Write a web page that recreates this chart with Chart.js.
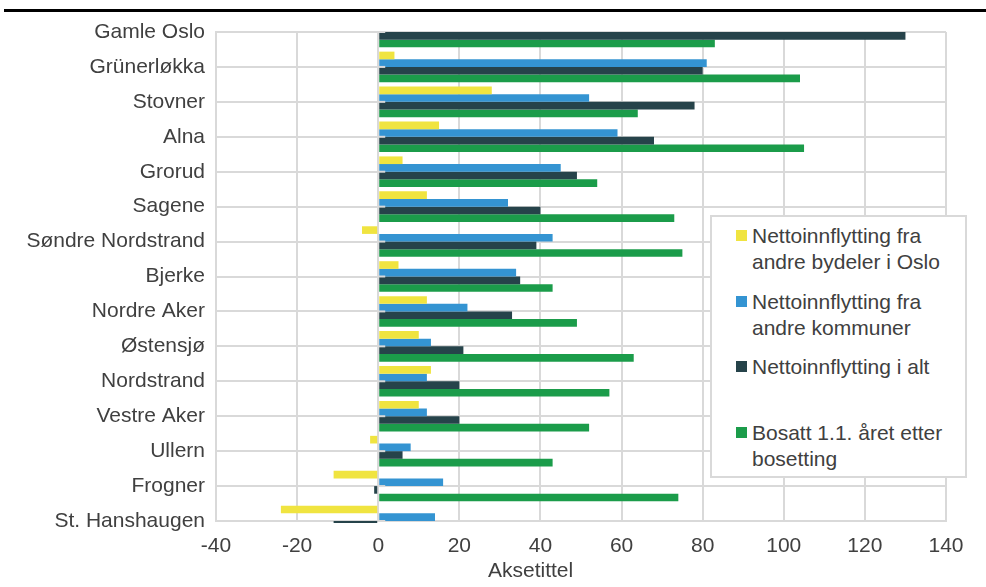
<!DOCTYPE html>
<html>
<head>
<meta charset="utf-8">
<script src="https://cdn.jsdelivr.net/npm/chart.js@4.4.1/dist/chart.umd.min.js"></script>
<style>
  body { margin: 0; background: #fff; }
  #wrap { position: relative; width: 986px; height: 587px; font-family: 'Liberation Sans', Arial, sans-serif; color: #404040; }
  #topline { position: absolute; left: 4px; top: 9px; width: 982px; height: 3px; background: #000; }
  #legend { position: absolute; left: 710px; top: 215px; width: 253px; height: 259px; border: 2px solid #d9d9d9; background: #fff; }
  .item { position: absolute; left: 40px; font-size: 21px; line-height: 25.6px; white-space: nowrap; }
  .sw { position: absolute; left: -16px; top: 7px; width: 11px; height: 11px; }
  #xtitle { position: absolute; left: 488px; top: 557px; font-size: 21px; line-height: 25px; }
</style>
</head>
<body>
<div id="wrap">
  <canvas id="chart" width="986" height="587"></canvas>
  <div id="topline"></div>
  <div id="legend"></div>
  <div id="xtitle">Aksetittel</div>
</div>
<script>
// bydeler, fra topp til bunn
const bydeler = ['Gamle Oslo', 'Grünerløkka', 'Stovner', 'Alna', 'Grorud', 'Sagene', 'Søndre Nordstrand',
  'Bjerke', 'Nordre Aker', 'Østensjø', 'Nordstrand', 'Vestre Aker', 'Ullern', 'Frogner', 'St. Hanshaugen'];

// null = kuttet bort i originalen
const fraBydeler   = [null, 4, 28, 15, 6, 12, -4, 5, 12, 10, 13, 10, -2, -11, -24];
const fraKommuner  = [null, 81, 52, 59, 45, 32, 43, 34, 22, 13, 12, 12, 8, 16, 14];
const iAlt         = [130, 80, 78, 68, 49, 40, 39, 35, 33, 21, 20, 20, 6, -1, -11];
const bosatt       = [83, 104, 64, 105, 54, 73, 75, 43, 49, 63, 57, 52, 43, 74, null];

const seriesNames = [['Nettoinnflytting fra', 'andre bydeler i Oslo'], ['Nettoinnflytting fra', 'andre kommuner'],
  ['Nettoinnflytting i alt'], ['Bosatt 1.1. året etter', 'bosetting']];
const colors = ['#F0E440', '#3494D2', '#26434A', '#1B9C4A'];
const xTicks = [-40, -20, 0, 20, 40, 60, 80, 100, 120, 140];

const font = { family: "'Liberation Sans', Arial, sans-serif", size: 21 };
const textColor = '#404040';
const gridColor = '#d9d9d9';

// små merker ved nullpunktet (kategoriaksen krysser i 0)
const zeroTicks = {
  id: 'zeroTicks',
  afterDatasetsDraw(chart) {
    const c = chart.ctx, x0 = chart.scales.x.getPixelForValue(0);
    c.save();
    c.strokeStyle = gridColor;
    c.lineWidth = 2;
    chart.scales.y.ticks.forEach((t, i) => {
      const y = chart.scales.y.getPixelForTick(i);
      c.beginPath();
      c.moveTo(x0, y);
      c.lineTo(x0 + 7, y);
      c.stroke();
    });
    c.restore();
  }
};

const data = [fraBydeler, fraKommuner, iAlt, bosatt];
new Chart(document.getElementById('chart'), {
  type: 'bar',
  data: {
    labels: bydeler,
    datasets: data.map((d, i) => ({
      label: seriesNames[i].join(' '),
      data: d,
      backgroundColor: colors[i],
      categoryPercentage: 0.876,
      barPercentage: 1.0,
      clip: { left: 0, top: 0, right: 0, bottom: 2 }
    }))
  },
  options: {
    indexAxis: 'y',
    responsive: false,
    animation: false,
    devicePixelRatio: 1,
    layout: { padding: { top: 32, right: 40, left: 0, bottom: 0 } },
    plugins: { legend: { display: false }, tooltip: { enabled: false } },
    scales: {
      x: {
        min: -40, max: 140,
        afterBuildTicks: s => { s.ticks = xTicks.map(v => ({ value: v })); },
        afterFit: s => { s.height = 66; },
        grid: { color: gridColor, lineWidth: 2, drawTicks: false },
        border: { color: gridColor, width: 2 },
        ticks: { font, color: textColor, padding: 13 }
      },
      y: {
        offset: false,
        afterFit: s => { s.width = 216; },
        grid: { offset: false, color: gridColor, lineWidth: 2, drawTicks: false },
        border: { color: gridColor, width: 2 },
        ticks: { font, color: textColor, padding: 11, autoSkip: false }
      }
    }
  },
  plugins: [zeroTicks]
});

// forklaring
const legend = document.getElementById('legend');
const itemTops = [6.4, 72.1, 137.1, 203.1];
seriesNames.forEach((lines, i) => {
  const div = document.createElement('div');
  div.className = 'item';
  div.style.top = itemTops[i] + 'px';
  div.innerHTML = '<span class="sw" style="background:' + colors[i] + '"></span>' + lines.join('<br>');
  legend.appendChild(div);
});
</script>
</body>
</html>
